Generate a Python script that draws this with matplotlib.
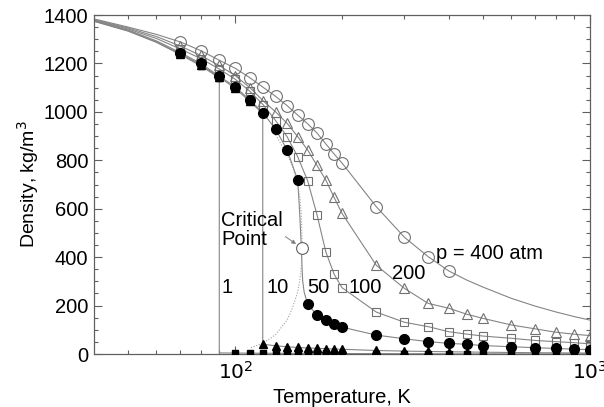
import matplotlib.pyplot as plt
from matplotlib.ticker import MultipleLocator, FixedLocator, NullFormatter

plt.rcParams['font.family'] = ['Liberation Sans', 'DejaVu Sans']

# temperatures (K) that carry a symbol
T_marks = [70, 80, 90, 100, 110, 120, 130, 140, 150, 160, 170, 180, 190, 200,
           250, 300, 350, 400, 450, 500, 600, 700, 800, 900, 1000]
T_gas = [100, 110, 120, 130, 140, 150, 160, 170, 180, 190, 200,
         250, 300, 350, 400, 450, 500, 600, 700, 800, 900, 1000]

# p = 1 atm : liquid up to 90.2 K, then vapour
T_1 = [40, 50, 60, 70, 80, 90, 90.2, 90.2] + T_gas
rho_1 = [1374, 1333, 1287, 1237, 1190, 1141, 1140, 4.5,
         3.9, 3.55, 3.25, 3.0, 2.8, 2.6, 2.45, 2.3, 2.17, 2.05, 1.95,
         1.56, 1.3, 1.11, 0.97, 0.87, 0.78, 0.65, 0.56, 0.49, 0.43, 0.39]

# p = 10 atm : liquid up to 119.6 K, then vapour
T_10 = [40, 50, 60, 70, 80, 90, 100, 110, 119.6, 119.6] + T_gas[2:]
rho_10 = [1375, 1335, 1289, 1240, 1195, 1145, 1097, 1043, 993, 42,
          40, 34, 30, 27, 25, 23.5, 22, 20.5, 19.5,
          14.5, 12, 10.5, 9.3, 8.3, 7.5, 6.3, 5.4, 4.8, 4.3, 3.9]

# p = 50 atm (just above the critical pressure)
T_50 = [40, 50, 60, 70, 80, 90, 100, 110, 120, 130, 140, 150,
        151.5, 152.5, 153.5, 154.3, 155, 156.5,
        160, 170, 180, 190, 200, 250, 300, 350, 400, 450, 500, 600, 700, 800, 900, 1000]
rho_50 = [1377, 1338, 1293, 1245, 1200, 1148, 1104, 1049, 995, 928, 844, 719,
          620, 540, 450, 360, 300, 255,
          206, 161, 139, 124, 111, 78, 63, 51, 44, 40, 35, 30, 26, 23, 20, 18]

# p = 100 atm
T_100 = [40, 50, 60] + T_marks
rho_100 = [1379, 1342, 1303, 1260, 1220, 1178, 1135, 1085, 1029, 964, 898, 815, 716,
           576, 423, 330, 274, 173, 131, 113, 92, 82, 74, 65, 56, 51, 47, 42]

# p = 200 atm
T_200 = [40, 50, 60] + T_marks
rho_200 = [1381, 1346, 1311, 1272, 1233, 1192, 1150, 1100, 1045, 1000, 953, 898, 843,
           779, 719, 647, 581, 366, 271, 209, 189, 164, 147, 120, 104, 90, 82, 76]

# p = 400 atm (symbols only up to 400 K)
T_400 = [40, 50, 60] + T_marks
rho_400 = [1384, 1350, 1320, 1289, 1253, 1214, 1180, 1141, 1101, 1064, 1026, 987, 951,
           913, 868, 826, 789, 608, 482, 402, 343, 305, 276, 230, 198, 174, 155, 140]

# saturation curve (dotted) and critical point
T_sat_liq = [130, 140, 145, 150, 152, 153.5, 154.6]
rho_sat_liq = [905, 825, 775, 700, 650, 580, 436]
T_sat_vap = [154.6, 154, 153, 151.5, 150, 145, 140, 130, 120, 110]
rho_sat_vap = [436, 380, 330, 290, 255, 190, 140, 80, 45, 24]
T_crit, rho_crit = 154.6, 436

line_kw = dict(color='#858585', lw=0.8, zorder=2)

fig = plt.figure(figsize=(6.04, 4.07), dpi=100)
ax = fig.add_axes([0.1556, 0.1302, 0.8212, 0.8329])
ax.set_xscale('log')


def marked(T, rho, tmax=1000, tmin=70):
    pts = [(t, r) for t, r in zip(T, rho) if t in T_marks and tmin <= t <= tmax]
    return [p[0] for p in pts], [p[1] for p in pts]


for T, rho in [(T_1, rho_1), (T_10, rho_10), (T_50, rho_50),
               (T_100, rho_100), (T_200, rho_200), (T_400, rho_400)]:
    ax.plot(T, rho, **line_kw)

ax.plot(T_sat_liq, rho_sat_liq, color='#a0a0a0', lw=0.8, ls=(0, (1, 1.5)), zorder=2)
ax.plot(T_sat_vap, rho_sat_vap, color='#a0a0a0', lw=0.8, ls=(0, (1, 1.5)), zorder=2)

# symbols
x, y = marked(T_400, rho_400, tmax=400)
ax.plot(x, y, 'o', ms=8.5, mfc='none', mec='#707070', mew=0.8, zorder=3)
x, y = marked(T_200, rho_200)
ax.plot(x, y, '^', ms=7, mfc='none', mec='#707070', mew=0.8, zorder=3)
x, y = marked(T_100, rho_100)
ax.plot(x, y, 's', ms=5.5, mfc='none', mec='#707070', mew=0.8, zorder=3)
x, y = marked(T_50, rho_50)
ax.plot(x, y, 'o', ms=7, color='black', zorder=4)
x, y = marked(T_10, rho_10)
ax.plot(x, y, '^', ms=5.5, color='black', zorder=4)
x, y = marked(T_1, rho_1)
ax.plot(x, y, 's', ms=5, color='black', zorder=4)

ax.plot([T_crit], [rho_crit], 'o', ms=8.5, mfc='white', mec='#606060', mew=0.8, zorder=5)

# annotations
fs = 14.5
ax.text(91.3, 512, 'Critical\nPoint', fontsize=fs, va='center', ha='left', linespacing=1.0)
ax.annotate('', xy=(148.5, 454), xytext=(138.5, 485),
            arrowprops=dict(arrowstyle='-|>', color='#808080', lw=0.7,
                            mutation_scale=6, shrinkA=0, shrinkB=0))
ax.text(91.5, 273, '1', fontsize=fs, va='center', ha='left')
ax.text(122.5, 273, '10', fontsize=fs, va='center', ha='left')
ax.text(160, 273, '50', fontsize=fs, va='center', ha='left')
ax.text(208, 273, '100', fontsize=fs, va='center', ha='left')
ax.text(277, 334, '200', fontsize=fs, va='center', ha='left')
ax.text(369, 417, 'p = 400 atm', fontsize=fs, va='center', ha='left')

ax.set_xlim(40, 1000)
ax.set_ylim(0, 1400)
ax.yaxis.set_major_locator(MultipleLocator(200))
ax.yaxis.set_minor_locator(MultipleLocator(50))
ax.xaxis.set_major_locator(FixedLocator([100, 1000]))
ax.xaxis.set_minor_locator(FixedLocator([50, 60, 70, 80, 90, 200, 300, 400, 500,
                                         600, 700, 800, 900]))
ax.xaxis.set_minor_formatter(NullFormatter())
ax.set_xticklabels(['$10^2$', '$10^3$'])
ax.tick_params(which='both', direction='in', top=True, right=True,
               color='#606060', labelsize=14.5)
ax.tick_params(which='major', length=6, width=0.8)
ax.tick_params(which='minor', length=3, width=0.8)
ax.tick_params(axis='x', pad=5)
ax.tick_params(axis='y', pad=4)
for s in ax.spines.values():
    s.set_color('#606060')
    s.set_linewidth(0.9)

ax.set_xlabel('Temperature, K', fontsize=14.5, labelpad=4)
ax.set_ylabel('Density, kg/m$^3$', fontsize=14, labelpad=2)

fig.savefig('out.png', dpi=100)
